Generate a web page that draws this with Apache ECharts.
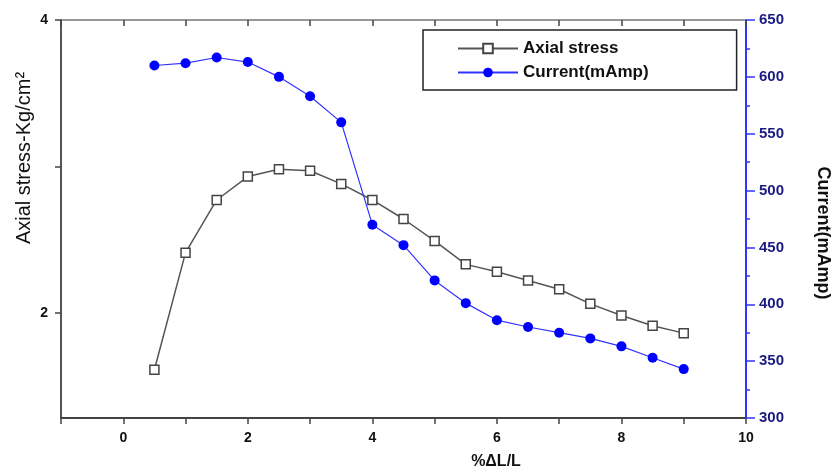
<!DOCTYPE html>
<html>
<head>
<meta charset="utf-8">
<script src="https://cdn.jsdelivr.net/npm/echarts@6/dist/echarts.min.js"></script>
<style>
html,body{margin:0;padding:0;background:#fff;}
#chart{width:840px;height:472px;}
</style>
</head>
<body>
<div id="chart"></div>
<script>
const strain = [0.5, 1, 1.5, 2, 2.5, 3, 3.5, 4, 4.5, 5, 5.5, 6, 6.5, 7, 7.5, 8, 8.5, 9];
const axialStress = [1.61, 2.41, 2.77, 2.93, 2.98, 2.97, 2.88, 2.77, 2.64, 2.49, 2.33, 2.28, 2.22, 2.16, 2.06, 1.98, 1.91, 1.86];
const current = [610, 612, 617, 613, 600, 583, 560, 470, 452, 421, 401, 386, 380, 375, 370, 363, 353, 343];
const leftTickLabels = [2, 4];
const leftTicks = [2, 3, 4];

const chart = echarts.init(document.getElementById('chart'));
const font = 'Liberation Sans, Arial, sans-serif';
const pair = (xs, ys) => xs.map((x, i) => [x, ys[i]]);

chart.setOption({
  animation: false,
  backgroundColor: '#ffffff',
  grid: { left: 61, right: 91, top: 20, bottom: 54 },
  legend: {
    orient: 'vertical',
    left: 423, top: 30,
    padding: [10, 88, 9, 34],
    itemWidth: 60, itemHeight: 12, itemGap: 7,
    borderColor: '#222', borderWidth: 1.5, backgroundColor: '#fff',
    textStyle: { fontFamily: font, fontWeight: 'bold', fontSize: 17, color: '#111' },
    data: ['Axial stress', 'Current(mAmp)']
  },
  xAxis: [{
    type: 'value', min: -1, max: 10, interval: 1,
    axisLine: { onZero: false, lineStyle: { color: '#444', width: 2 } },
    axisTick: { show: true, length: 6, lineStyle: { color: '#444', width: 1.5 } },
    axisLabel: { margin: 13, fontFamily: font, fontWeight: 'bold', fontSize: 14, color: '#111',
      formatter: v => (v % 2 === 0 && v >= 0) ? String(v) : '' },
    splitLine: { show: false }
  }, {
    type: 'value', position: 'top', min: -1, max: 10, interval: 1,
    axisLine: { onZero: false, lineStyle: { color: '#777', width: 1.5 } },
    axisTick: { show: true, inside: true, length: 6, lineStyle: { color: '#444', width: 1.5 } },
    axisLabel: { show: false },
    splitLine: { show: false }
  }],
  yAxis: [{
    type: 'value', min: 1.28, max: 4, position: 'left',
    axisLine: { show: true, onZero: false, lineStyle: { color: '#555', width: 2 } },
    axisTick: { show: true, length: 6, customValues: leftTicks, lineStyle: { color: '#444', width: 1.5 } },
    axisLabel: { customValues: leftTickLabels, margin: 13, fontFamily: font, fontWeight: 'bold', fontSize: 14, color: '#111' },
    splitLine: { show: false }
  }, {
    type: 'value', min: 300, max: 650, interval: 50, position: 'right',
    name: 'Current(mAmp)', nameLocation: 'middle', nameRotate: -90, nameGap: 68,
    nameTextStyle: { fontFamily: font, fontWeight: 'bold', fontSize: 18, color: '#111', padding: [0, 0, 0, 28] },
    axisLine: { show: true, onZero: false, lineStyle: { color: '#3333ff', width: 2 } },
    axisTick: { show: true, length: 9, lineStyle: { color: '#3333ff', width: 1.5 } },
    minorTick: { show: true, splitNumber: 2, length: 4, lineStyle: { color: '#3333ff', width: 1.5 } },
    axisLabel: { margin: 13, fontFamily: font, fontWeight: 'bold', fontSize: 15, color: '#1a1a80' },
    splitLine: { show: false }
  }],
  graphic: [{
    type: 'text',
    x: 24, y: 158, rotation: Math.PI / 2,
    style: { text: 'Axial stress-Kg/cm²', fontFamily: font, fontSize: 20, fill: '#111',
      align: 'center', verticalAlign: 'middle' }
  }, {
    type: 'text',
    x: 496, y: 462,
    style: { text: '%ΔL/L', fontFamily: font, fontWeight: 'bold', fontSize: 16, fill: '#111',
      align: 'center', verticalAlign: 'middle' }
  }],
  series: [{
    name: 'Axial stress', type: 'line', xAxisIndex: 0, yAxisIndex: 0,
    data: pair(strain, axialStress),
    symbol: 'rect', symbolSize: 9,
    lineStyle: { color: '#555', width: 1.5 },
    itemStyle: { color: '#fff', borderColor: '#444', borderWidth: 1.5 },
    z: 2
  }, {
    name: 'Current(mAmp)', type: 'line', xAxisIndex: 0, yAxisIndex: 1,
    data: pair(strain, current),
    symbol: 'circle', symbolSize: 10,
    lineStyle: { color: '#3333ff', width: 1.2 },
    itemStyle: { color: '#0000ff', borderWidth: 0 },
    z: 3
  }]
});
</script>
</body>
</html>
